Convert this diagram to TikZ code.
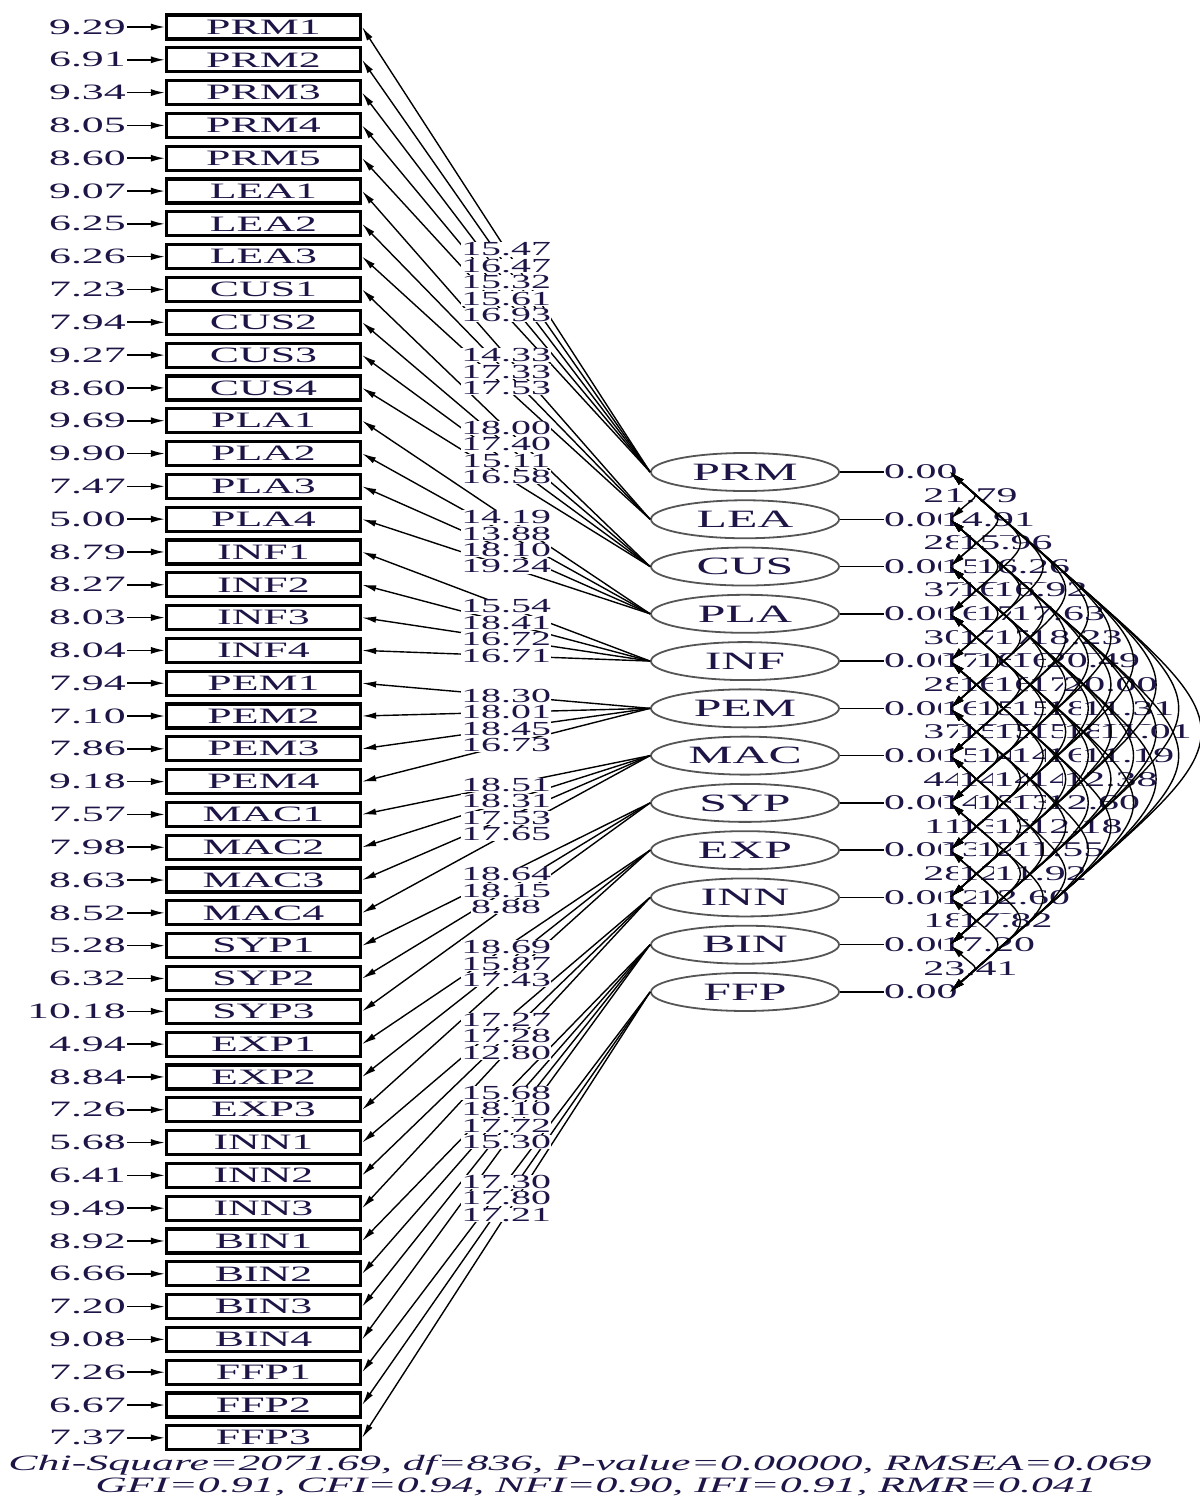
\documentclass[tikz,border=0pt]{standalone}
\usepackage{fontspec}
\setmainfont{Liberation Serif}[FakeStretch=2.0]
\usetikzlibrary{shapes.geometric,arrows.meta}
\definecolor{txt}{RGB}{30,20,70}
\definecolor{ellc}{RGB}{85,85,85}
\def\indlist{PRM1/9.29/1/15.47, PRM2/6.91/1/16.47, PRM3/9.34/1/15.32, PRM4/8.05/1/15.61, PRM5/8.60/1/16.93,
LEA1/9.07/2/14.33, LEA2/6.25/2/17.33, LEA3/6.26/2/17.53,
CUS1/7.23/3/18.00, CUS2/7.94/3/17.40, CUS3/9.27/3/15.11, CUS4/8.60/3/16.58,
PLA1/9.69/4/14.19, PLA2/9.90/4/13.88, PLA3/7.47/4/18.10, PLA4/5.00/4/19.24,
INF1/8.79/5/15.54, INF2/8.27/5/18.41, INF3/8.03/5/16.72, INF4/8.04/5/16.71,
PEM1/7.94/6/18.30, PEM2/7.10/6/18.01, PEM3/7.86/6/18.45, PEM4/9.18/6/16.73,
MAC1/7.57/7/18.51, MAC2/7.98/7/18.31, MAC3/8.63/7/17.53, MAC4/8.52/7/17.65,
SYP1/5.28/8/18.64, SYP2/6.32/8/18.15, SYP3/10.18/8/8.88,
EXP1/4.94/9/18.69, EXP2/8.84/9/15.87, EXP3/7.26/9/17.43,
INN1/5.68/10/17.27, INN2/6.41/10/17.28, INN3/9.49/10/12.80,
BIN1/8.92/11/15.68, BIN2/6.66/11/18.10, BIN3/7.20/11/17.72, BIN4/9.08/11/15.30,
FFP1/7.26/12/17.30, FFP2/6.67/12/17.80, FFP3/7.37/12/17.21}
\def\corrlist{1/2/21.79, 2/3/28.15, 3/4/37.21, 4/5/30.13, 5/6/28.34, 6/7/37.26, 7/8/44.10, 8/9/11.45, 9/10/28.17, 10/11/18.12, 11/12/23.41,
1/3/14.91, 2/4/15.84, 3/5/16.62, 4/6/17.05, 5/7/16.38, 6/8/15.27, 7/9/14.66, 8/10/13.91, 9/11/12.74, 10/12/17.20,
1/4/15.96, 2/5/16.43, 3/6/17.12, 4/7/16.85, 5/8/15.78, 6/9/14.92, 7/10/13.56, 8/11/12.87, 9/12/17.82,
1/5/16.26, 2/6/17.34, 3/7/16.47, 4/8/15.63, 5/9/14.81, 6/10/13.72, 7/11/12.95, 8/12/12.60,
1/6/16.92, 2/7/17.48, 3/8/16.21, 4/9/15.09, 5/10/14.37, 6/11/13.48, 7/12/11.92,
1/7/17.63, 2/8/16.75, 3/9/15.54, 4/10/14.86, 5/11/13.29, 6/12/11.55,
1/8/18.23, 2/9/17.06, 3/10/15.92, 4/11/14.18, 5/12/12.18,
1/9/20.49, 2/10/18.37, 3/11/16.64, 4/12/12.60,
1/10/20.00, 2/11/18.52, 3/12/12.38,
1/11/11.31, 2/12/11.19,
1/12/11.01}
\begin{document}
\begin{tikzpicture}[x=1bp,y=-1bp,
  box/.style={draw=black, line width=3.2bp, minimum width=194bp, minimum height=24bp, inner sep=0pt, font=\fontsize{22}{22}\selectfont, text=txt},
  lat/.style={ellipse, draw=ellc, line width=1.8bp, minimum width=188bp, minimum height=38bp, inner sep=0pt, fill=white, font=\fontsize{25}{25}\selectfont, text=txt},
  errlab/.style={anchor=east, inner sep=1bp, font=\fontsize{22}{22}\selectfont, text=txt},
  zlab/.style={anchor=west, inner sep=0pt, font=\fontsize{21}{21}\selectfont, text=txt},
  tlab/.style={fill=white, inner sep=0.5bp, font=\fontsize{20}{20}\selectfont, text=txt},
  clab/.style={fill=white, inner sep=0.3bp, font=\fontsize{21}{21}\selectfont, text=txt},
  fitlab/.style={inner sep=0pt, font=\itshape\fontsize{22}{22}\selectfont, text=txt},
  errarr/.style={line width=1.6bp, -{Latex[length=14bp,width=7bp]}},
  load/.style={line width=1.4bp, -{Latex[length=14bp,width=6.5bp]}},
  corr/.style={line width=1.4bp, {Latex[length=15bp,width=7bp]}-{Latex[length=15bp,width=7bp]}}
]
\useasboundingbox (0,0) rectangle (1199,1497);
% indicators
\foreach \nm/\ev/\gr/\tv [count=\k] in \indlist {
  \pgfmathsetmacro\yy{27+(\k-1)*32.81}
  \node[box] (b\k) at (263.5,\yy) {\nm};
  \node[errlab] (e\k) at (127,\yy) {\ev};
  \draw[errarr] (e\k.east) -- (b\k.west);
}
% latents
\foreach \nm [count=\g] in {PRM,LEA,CUS,PLA,INF,PEM,MAC,SYP,EXP,INN,BIN,FFP} {
  \pgfmathsetmacro\yy{472+(\g-1)*47.27}
  \node[lat] (l\g) at (745,\yy) {\nm};
  \node[zlab] (z\g) at (884,\yy) {0.00};
  \draw[line width=1.5bp] (l\g.east) -- (z\g.west);
  \coordinate (c\g) at (950,\yy);
}
% loadings
\foreach \nm/\ev/\gr/\tv [count=\k] in \indlist {
  \draw[load] (l\gr.west) -- (b\k.east);
}
\foreach \nm/\ev/\gr/\tv [count=\k] in \indlist {
  \path (l\gr.west) -- node[tlab] (t\k) {\tv} (b\k.east);
}
% correlation labels
\foreach \i/\j/\v in \corrlist {
  \pgfmathsetmacro\xx{953+17.5*(\j-\i)}
  \pgfmathsetmacro\yy{472+(\i+\j-2)*47.27/2}
  \node[clab] (cl\i x\j) at (\xx,\yy) {\v};
}
% correlation arcs
\foreach \i/\j/\v in \corrlist {
  \draw[corr] (c\i) to[out=-42,in=42,looseness=2.2] (c\j);
}
% fit statistics
\node[fitlab] (fit1) at (580,1465) {Chi-Square=2071.69, df=836, P-value=0.00000, RMSEA=0.069};
\node[fitlab] (fit2) at (596,1487) {GFI=0.91, CFI=0.94, NFI=0.90, IFI=0.91, RMR=0.041};
\end{tikzpicture}
\end{document}
